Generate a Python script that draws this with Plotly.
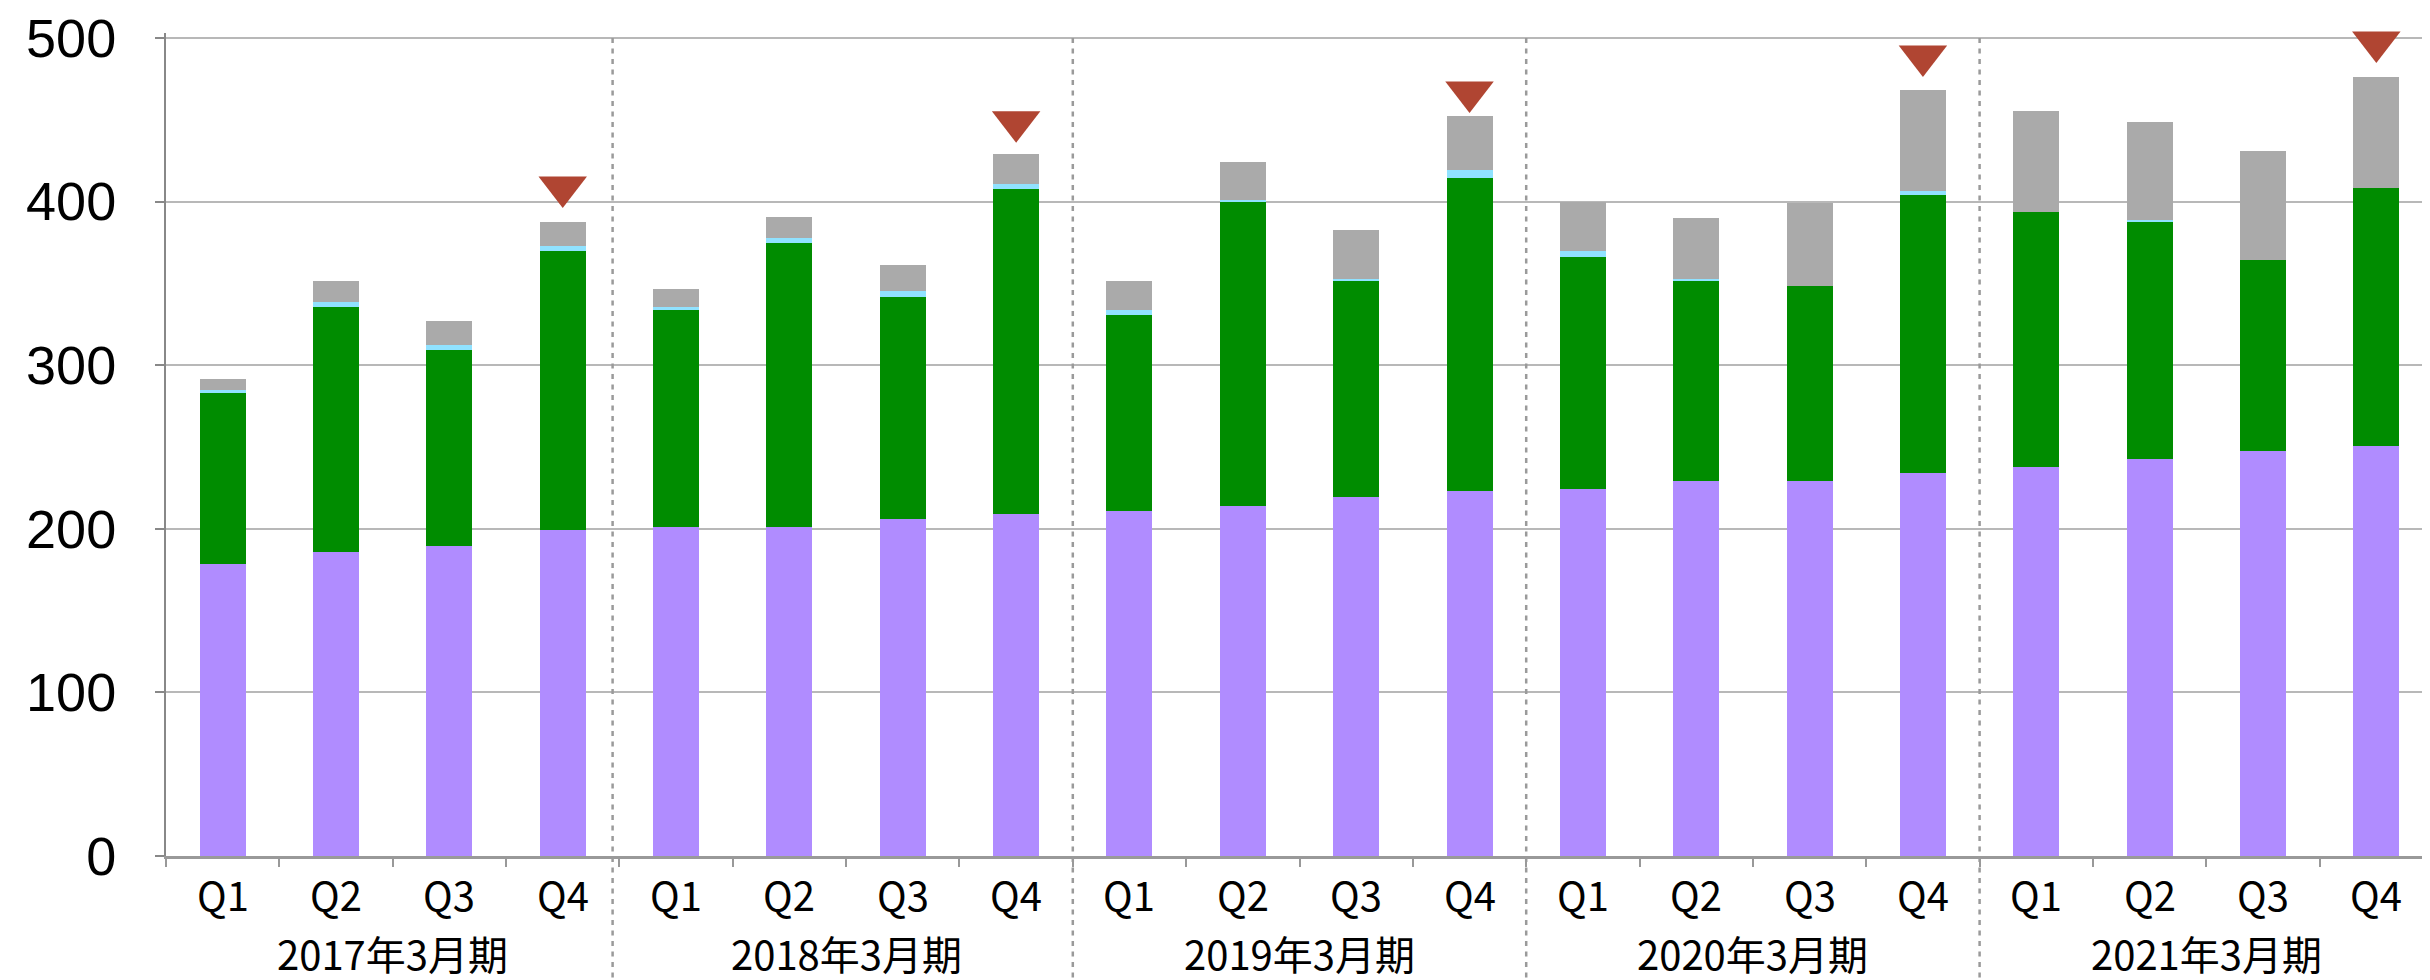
import plotly.graph_objects as go

# ---- data ----
quarters = ["Q1", "Q2", "Q3", "Q4"]
fiscal_years = ["2017年3月期", "2018年3月期", "2019年3月期", "2020年3月期", "2021年3月期"]
tick_labels = quarters * len(fiscal_years)

seg_purple = [178.2, 186.1, 189.2, 199.2, 200.8, 200.8, 205.7, 208.8, 210.6, 213.7,
              219.5, 223.2, 224.4, 229.3, 229.5, 234.1, 237.8, 242.7, 247.6, 250.6]
seg_green = [104.7, 149.3, 119.9, 170.3, 132.7, 174.0, 136.1, 198.8, 120.0, 186.1,
             131.8, 191.4, 141.5, 121.9, 118.7, 169.6, 155.5, 144.5, 116.4, 157.9]
seg_cyan = [1.7, 3.0, 3.1, 3.1, 1.9, 3.1, 3.5, 3.1, 3.1, 1.0,
            1.5, 4.9, 3.6, 1.6, 0.0, 3.0, 0.0, 1.8, 0.0, 0.0]
seg_gray = [6.9, 12.8, 14.6, 14.9, 11.0, 12.9, 16.0, 18.5, 17.8, 23.4,
            29.9, 32.9, 30.5, 37.4, 50.6, 61.6, 62.2, 59.8, 67.1, 67.7]

marker_idx = [3, 7, 11, 15, 19]
marker_vals = [408.9, 448.7, 466.9, 489.0, 497.5]

separator_pos = [3.44, 7.5, 11.5, 15.5]
year_centers = [1.5, 5.5, 9.5, 13.5, 17.5]
y_ticks = [0, 100, 200, 300, 400, 500]

# ---- figure ----
FONT = "Noto Sans CJK JP"
NUM_FONT = "Liberation Sans"
W, H = 2430, 980
ML, MR, MT, MB = 158, 5, 25, 132
plot_h = H - MT - MB
Y_MAX = 503

x = list(range(len(tick_labels)))

fig = go.Figure()
for vals, col in [(seg_purple, "#b08cff"), (seg_green, "#008c00"),
                  (seg_cyan, "#90e2ff"), (seg_gray, "#aaaaaa")]:
    fig.add_trace(go.Bar(x=x, y=vals, marker=dict(color=col, line=dict(width=0)),
                         showlegend=False, hoverinfo="skip"))

fig.add_trace(go.Scatter(x=marker_idx, y=marker_vals, mode="markers",
                         marker=dict(symbol="triangle-down", size=42, color="#b04532",
                                     line=dict(width=0)),
                         cliponaxis=False, showlegend=False, hoverinfo="skip"))

shapes = []
for p in separator_pos:
    shapes.append(dict(type="line", xref="x", yref="paper", x0=p, x1=p,
                       y0=500 / Y_MAX, y1=-(MB + 5) / plot_h,
                       line=dict(color="#9a9a9a", width=2.5, dash="5px,5.5px"),
                       layer="above"))

annotations = []
for xi, lab in zip(x, tick_labels):
    annotations.append(dict(x=xi, xref="x", y=-38 / plot_h, yref="paper",
                            text=lab, showarrow=False, xanchor="center", yanchor="middle",
                            font=dict(family=FONT, size=40, color="black")))
for xc, lab in zip(year_centers, fiscal_years):
    annotations.append(dict(x=xc, xref="x", y=-97 / plot_h, yref="paper",
                            text=lab, showarrow=False, xanchor="center", yanchor="middle",
                            font=dict(family=FONT, size=40, color="black")))

fig.update_layout(
    width=W, height=H,
    margin=dict(l=ML, r=MR, t=MT, b=MB, autoexpand=False),
    paper_bgcolor="white", plot_bgcolor="white",
    barmode="stack", bargap=0.594,
    shapes=shapes, annotations=annotations,
    font=dict(family=FONT, color="black"),
)
fig.update_xaxes(
    range=[-0.5, len(tick_labels) - 0.5],
    tickmode="array", tickvals=x, ticktext=tick_labels,
    showticklabels=False, ticks="",
    showline=True, linecolor="#999999", linewidth=2.5,
    showgrid=False, zeroline=False,
    minor=dict(tickmode="array", tickvals=[i - 0.5 for i in range(len(tick_labels) + 1)],
               ticks="outside", ticklen=8, tickwidth=2, tickcolor="#999999", showgrid=False),
)
fig.update_yaxes(
    range=[0, Y_MAX], tickmode="array", tickvals=y_ticks,
    ticktext=[str(v) for v in y_ticks],
    ticks="outside", ticklen=9, tickwidth=2, tickcolor="#888888",
    tickfont=dict(family=NUM_FONT, size=54, color="black"),
    ticklabelstandoff=28, ticklabeloverflow="allow",
    showline=True, linecolor="#888888", linewidth=2,
    showgrid=True, gridcolor="#b8b8b8", gridwidth=2,
    zeroline=False,
)

fig.write_html("out.html")
